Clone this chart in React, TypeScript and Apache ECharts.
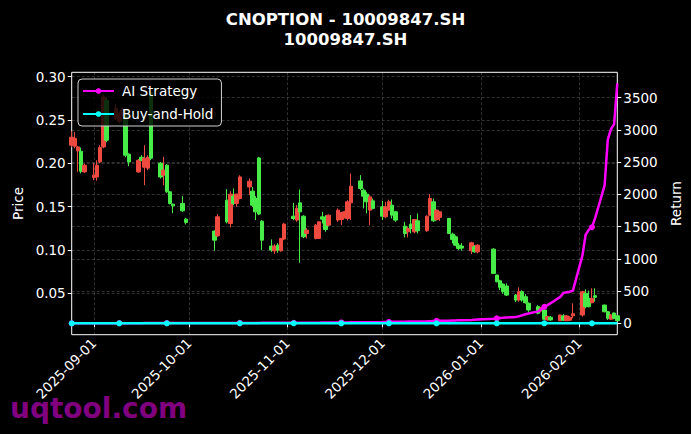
import React, { useEffect, useRef } from 'react';
import * as echarts from 'echarts';

// trading days
const dates = [
  '2025-08-25', '2025-08-26', '2025-08-27', '2025-08-28', '2025-08-29',
  '2025-09-01', '2025-09-02', '2025-09-03', '2025-09-04', '2025-09-05',
  '2025-09-08', '2025-09-09', '2025-09-10', '2025-09-11', '2025-09-12',
  '2025-09-15', '2025-09-16', '2025-09-17', '2025-09-18', '2025-09-19',
  '2025-09-22', '2025-09-23', '2025-09-24', '2025-09-25', '2025-09-26',
  '2025-09-29', '2025-09-30',
  '2025-10-09', '2025-10-10',
  '2025-10-13', '2025-10-14', '2025-10-15', '2025-10-16', '2025-10-17',
  '2025-10-20', '2025-10-21', '2025-10-22', '2025-10-23', '2025-10-24',
  '2025-10-27', '2025-10-28', '2025-10-29', '2025-10-30', '2025-10-31',
  '2025-11-03', '2025-11-04', '2025-11-05', '2025-11-06', '2025-11-07',
  '2025-11-10', '2025-11-11', '2025-11-12', '2025-11-13', '2025-11-14',
  '2025-11-17', '2025-11-18', '2025-11-19', '2025-11-20', '2025-11-21',
  '2025-11-24', '2025-11-25', '2025-11-26', '2025-11-27', '2025-11-28',
  '2025-12-01', '2025-12-02', '2025-12-03', '2025-12-04', '2025-12-05',
  '2025-12-08', '2025-12-09', '2025-12-10', '2025-12-11', '2025-12-12',
  '2025-12-15', '2025-12-16', '2025-12-17', '2025-12-18', '2025-12-19',
  '2025-12-22', '2025-12-23', '2025-12-24', '2025-12-25', '2025-12-26',
  '2025-12-29', '2025-12-30', '2025-12-31',
  '2026-01-05', '2026-01-06', '2026-01-07', '2026-01-08', '2026-01-09',
  '2026-01-12', '2026-01-13', '2026-01-14', '2026-01-15', '2026-01-16',
  '2026-01-19', '2026-01-20', '2026-01-21', '2026-01-22', '2026-01-23',
  '2026-01-26', '2026-01-27', '2026-01-28', '2026-01-29', '2026-01-30',
  '2026-02-02', '2026-02-03', '2026-02-04', '2026-02-05', '2026-02-06',
  '2026-02-09', '2026-02-10', '2026-02-11', '2026-02-12', '2026-02-13',
];

const opens = [
  0.2209, 0.2197, 0.2143, 0.2139, 0.1901,
  0.1837, 0.1843, 0.2016, 0.2189, 0.2727,
  0.2520, 0.2485, 0.2570, 0.2550, 0.2105,
  0.1901, 0.2070, 0.1955, 0.1944, 0.2819,
  0.2001, 0.1863, 0.1978, 0.1671, 0.1529,
  0.1537, 0.1356,
  0.1218, 0.1164,
  0.1575, 0.1306, 0.1621, 0.1537, 0.1594,
  0.1728, 0.1679, 0.1594, 0.2062, 0.1333,
  0.1045, 0.0991, 0.1056, 0.0991, 0.1126,
  0.1390, 0.1345, 0.1544, 0.1390, 0.1191,
  0.1134, 0.1134, 0.1383, 0.1364, 0.1287,
  0.1345, 0.1352, 0.1376, 0.1364, 0.1544,
  0.1797, 0.1690, 0.1644, 0.1460, 0.1567,
  0.1498, 0.1383, 0.1460, 0.1517, 0.1440,
  0.1275, 0.1210, 0.1299, 0.1210, 0.1337,
  0.1222, 0.1402, 0.1556, 0.1352, 0.1376,
  0.1364, 0.1183, 0.1152, 0.1056, 0.1045,
  0.0991, 0.1037, 0.0979,
  0.1010, 0.0711, 0.0645, 0.0607, 0.0584,
  0.0480, 0.0423, 0.0519, 0.0461, 0.0385,
  0.0346, 0.0296, 0.0308, 0.0193, 0.0224,
  0.0185, 0.0240, 0.0185, 0.0190, 0.0241,
  0.0250, 0.0500, 0.0442, 0.0392, 0.0473,
  0.0365, 0.0288, 0.0201, 0.0273, 0.0241,
];

const closes = [
  0.2301, 0.2289, 0.2189, 0.1909, 0.1978,
  0.1863, 0.1978, 0.2182, 0.2765, 0.2266,
  0.2635, 0.2577, 0.2620, 0.2094, 0.2016,
  0.2036, 0.2036, 0.2059, 0.2070, 0.2059,
  0.1843, 0.1921, 0.1671, 0.1537, 0.1510,
  0.1452, 0.1318,
  0.1114, 0.1383,
  0.1325, 0.1644, 0.1537, 0.1644, 0.1843,
  0.1794, 0.1517, 0.1440, 0.1414, 0.1114,
  0.0999, 0.1045, 0.0999, 0.1134, 0.1299,
  0.1364, 0.1480, 0.1440, 0.1152, 0.1229,
  0.1287, 0.1325, 0.1356, 0.1237, 0.1402,
  0.1460, 0.1429, 0.1440, 0.1556, 0.1736,
  0.1710, 0.1621, 0.1556, 0.1613, 0.1480,
  0.1390, 0.1498, 0.1556, 0.1402, 0.1345,
  0.1191, 0.1249, 0.1249, 0.1352, 0.1222,
  0.1390, 0.1594, 0.1337, 0.1460, 0.1440,
  0.1191, 0.1122, 0.1056, 0.1018, 0.1022,
  0.1083, 0.0979, 0.1056,
  0.0730, 0.0634, 0.0569, 0.0519, 0.0480,
  0.0423, 0.0519, 0.0423, 0.0392, 0.0308,
  0.0270, 0.0330, 0.0201, 0.0231, 0.0193,
  0.0250, 0.0190, 0.0240, 0.0225, 0.0265,
  0.0519, 0.0346, 0.0346, 0.0442, 0.0454,
  0.0288, 0.0212, 0.0250, 0.0212, 0.0185,
];

const lows = [
  0.2186, 0.2174, 0.1901, 0.1883, 0.1890,
  0.1805, 0.1799, 0.2001, 0.2174, 0.2243,
  0.2497, 0.2460, 0.2540, 0.2070, 0.1967,
  0.1890, 0.2025, 0.1748, 0.1921, 0.2036,
  0.1825, 0.1748, 0.1660, 0.1525, 0.1425,
  0.1440, 0.1295,
  0.0991, 0.1152,
  0.1306, 0.1260, 0.1517, 0.1498, 0.1583,
  0.1633, 0.1498, 0.1345, 0.1402, 0.0999,
  0.0979, 0.0956, 0.0968, 0.0980, 0.1114,
  0.1345, 0.1325, 0.0853, 0.1137, 0.1134,
  0.1122, 0.1130, 0.1306, 0.1210, 0.1275,
  0.1325, 0.1287, 0.1364, 0.1340, 0.1345,
  0.1690, 0.1480, 0.1422, 0.1287, 0.1467,
  0.1345, 0.1367, 0.1455, 0.1364, 0.1325,
  0.1145, 0.1145, 0.1191, 0.1191, 0.1191,
  0.1210, 0.1390, 0.1325, 0.1340, 0.1337,
  0.1185, 0.1076, 0.1045, 0.0999, 0.0991,
  0.0953, 0.0968, 0.0961,
  0.0725, 0.0627, 0.0538, 0.0496, 0.0469,
  0.0400, 0.0404, 0.0404, 0.0380, 0.0285,
  0.0258, 0.0280, 0.0190, 0.0185, 0.0185,
  0.0181, 0.0180, 0.0180, 0.0180, 0.0212,
  0.0231, 0.0327, 0.0338, 0.0385, 0.0404,
  0.0280, 0.0193, 0.0193, 0.0201, 0.0180,
];

const highs = [
  0.2370, 0.2362, 0.2200, 0.2182, 0.1995,
  0.2001, 0.2036, 0.2209, 0.2796, 0.2760,
  0.2680, 0.2600, 0.2650, 0.2620, 0.2116,
  0.2050, 0.2094, 0.2209, 0.2094, 0.2865,
  0.2016, 0.2074, 0.1990, 0.1680, 0.1535,
  0.1621, 0.1371,
  0.1225, 0.1414,
  0.1702, 0.1679, 0.1710, 0.1650, 0.1863,
  0.1825, 0.1728, 0.1621, 0.2074, 0.1345,
  0.1122, 0.1068, 0.1080, 0.1140, 0.1314,
  0.1544, 0.1517, 0.1698, 0.1402, 0.1252,
  0.1300, 0.1330, 0.1440, 0.1402, 0.1410,
  0.1480, 0.1440, 0.1452, 0.1575, 0.1883,
  0.1863, 0.1710, 0.1671, 0.1633, 0.1594,
  0.1567, 0.1556, 0.1580, 0.1583, 0.1452,
  0.1325, 0.1268, 0.1402, 0.1352, 0.1422,
  0.1400, 0.1644, 0.1594, 0.1467, 0.1445,
  0.1370, 0.1200, 0.1168, 0.1080, 0.1080,
  0.1095, 0.1056, 0.1068,
  0.1020, 0.0715, 0.0657, 0.0615, 0.0615,
  0.0492, 0.0569, 0.0535, 0.0492, 0.0396,
  0.0365, 0.0340, 0.0346, 0.0243, 0.0239,
  0.0254, 0.0260, 0.0250, 0.0235, 0.0385,
  0.0530, 0.0546, 0.0530, 0.0558, 0.0558,
  0.0370, 0.0296, 0.0262, 0.0280, 0.0250,
];

// returns on the right axis
const aiReturn = [
  0, 0, 0, 1, 1,
  1, 1, 1, 2, 2,
  2, 2, 2, 2, 2,
  2, 2, 3, 3, 3,
  3, 3, 3, 4, 4,
  4, 4,
  4, 5,
  5, 5, 5, 5, 6,
  6, 6, 6, 6, 7,
  7, 7, 7, 8, 8,
  8, 9, 9, 9, 10,
  10, 10, 11, 11, 12,
  12, 13, 13, 14, 15,
  15, 16, 17, 17, 18,
  19, 20, 21, 22, 23,
  25, 26, 27, 28, 29,
  31, 33, 35, 37, 39,
  41, 43, 45, 47, 49,
  52, 55, 58,
  70, 76, 81, 86, 90,
  96, 108, 125, 140, 152,
  185, 218, 255, 282, 312,
  410, 468, 482, 490, 506,
  1050, 1370, 1450, 1490, 1630,
  2140, 2850, 3010, 3090, 3720,
];

const bhReturn = [
  0, 0, 0, 0, 0, 0, 0, 0, 0, 0, 0, 0, 0, 0, 0, 0, 0, 0, 0, 0,
  0, 0, 0, 0, 0, 0, 0, 0, 0, 0, 0, 0, 0, 0, 0, 0, 0, 0, 0, 0,
  0, 0, 0, 0, 0, 0, 0, 0, 0, 0, 0, 0, 0, 0, 0, 0, 0, 0, 0, 0,
  0, 0, 0, 0, 0, 0, 0, 0, 0, 0, 0, 0, 0, 0, 0, 0, 0, 0, 0, 0,
  0, 0, 0, 0, 0, 0, 0, 0, 0, 0, 0, 0, 0, 0, 0, 0, 0, 0, 0, 0,
  0, 0, 0, 0, 0, 0, 0, 0, 0, 0, 0, 0, 0, 0, 0, 0, 0,
];

const monthTicks = ['2025-09-01', '2025-10-01', '2025-11-01', '2025-12-01', '2026-01-01', '2026-02-01'];
const priceTicks = [0.05, 0.1, 0.15, 0.2, 0.25, 0.3];
const returnTicks = [0, 500, 1000, 1500, 2000, 2500, 3000, 3500];

const UP = '#ee4a40';
const DOWN = '#48ec48';
const FONT = 'DejaVu Sans';

const ts = (s: string) => {
  const [y, m, d] = s.split('-').map(Number);
  return new Date(y, m - 1, d).getTime();
};
const pad = (n: number) => String(n).padStart(2, '0');
const fmtDate = (v: number) => {
  const d = new Date(v);
  return `${d.getFullYear()}-${pad(d.getMonth() + 1)}-${pad(d.getDate())}`;
};

const gridLine = { show: true, lineStyle: { color: 'rgba(255,255,255,0.28)', type: [3, 2], width: 0.7 } };

export default function App() {
  const chartRef = useRef<HTMLDivElement>(null);

  useEffect(() => {
    if (!chartRef.current) return;
    const chart = echarts.init(chartRef.current, null, { renderer: 'svg' });

    const candleData = dates.map((d, i) => [ts(d), opens[i], closes[i], lows[i], highs[i]]);
    const aiData = dates.map((d, i) => [ts(d), aiReturn[i]]);
    const bhData = dates.map((d, i) => [ts(d), bhReturn[i]]);
    const markerSize = (_v: any, p: any) => (p.dataIndex % 11 === 0 ? 6 : 0);
    const xTicks = monthTicks.map(ts);

    const option: any = {
      animation: false,
      backgroundColor: '#000',
      textStyle: { fontFamily: FONT },
      title: [
        { text: 'CNOPTION - 10009847.SH', left: 'center', top: 6, textStyle: { color: '#fff', fontSize: 16.5, fontWeight: 'bold', fontFamily: FONT } },
        { text: '10009847.SH', left: 'center', top: 26, textStyle: { color: '#fff', fontSize: 16.5, fontWeight: 'bold', fontFamily: FONT } },
      ],
      legend: {
        data: ['AI Strategy', 'Buy-and-Hold'],
        orient: 'vertical',
        left: 78,
        top: 79,
        padding: [5, 8, 5, 4],
        itemGap: 9,
        itemWidth: 31,
        itemHeight: 7,
        backgroundColor: 'rgba(0,0,0,0.8)',
        borderColor: '#d0d0d0',
        borderWidth: 1,
        borderRadius: 4,
        textStyle: { color: '#fff', fontSize: 13.5, fontFamily: FONT, padding: [0, 0, 0, 3] },
      },
      grid: { left: 71.7, top: 72.3, width: 545.6, height: 262.4, show: true, borderColor: '#fff', borderWidth: 1 },
      xAxis: {
        type: 'value',
        min: ts('2025-08-25'),
        max: ts('2026-02-13'),
        axisLine: { show: false },
        axisTick: { show: true, length: 4, lineStyle: { color: '#fff' }, customValues: xTicks },
        axisLabel: { customValues: xTicks, rotate: 45, color: '#fff', fontSize: 13.5, margin: 6, formatter: (v: number) => fmtDate(v) },
        splitLine: gridLine,
      },
      yAxis: [
        {
          type: 'value',
          position: 'left',
          min: 0.0023,
          max: 0.305,
          name: 'Price',
          nameLocation: 'middle',
          nameGap: 47,
          nameRotate: 90,
          nameTextStyle: { color: '#fff', fontSize: 13.5 },
          axisLine: { show: false },
          axisTick: { show: true, length: 4, lineStyle: { color: '#fff' }, customValues: priceTicks },
          axisLabel: { customValues: priceTicks, color: '#fff', fontSize: 13.5, margin: 6, formatter: (v: number) => v.toFixed(2) },
          splitLine: gridLine,
        },
        {
          type: 'value',
          position: 'right',
          min: -177,
          max: 3893,
          name: 'Return',
          nameLocation: 'middle',
          nameGap: 48,
          nameRotate: 90,
          nameTextStyle: { color: '#fff', fontSize: 13.5 },
          axisLine: { show: false },
          axisTick: { show: true, length: 4, lineStyle: { color: '#fff' }, customValues: returnTicks },
          axisLabel: { customValues: returnTicks, color: '#fff', fontSize: 13.5, margin: 6, formatter: (v: number) => String(v) },
          splitLine: gridLine,
        },
      ],
      series: [
        {
          type: 'candlestick',
          name: 'Price',
          xAxisIndex: 0,
          yAxisIndex: 0,
          barWidth: 4,
          encode: { x: 0, y: [1, 2, 3, 4] },
          data: candleData,
          itemStyle: { color: UP, color0: DOWN, borderColor: UP, borderColor0: DOWN, borderWidth: 1 },
          z: 2,
        },
        {
          type: 'line',
          name: 'AI Strategy',
          yAxisIndex: 1,
          data: aiData,
          color: '#ff00ff',
          lineStyle: { width: 2.5, color: '#ff00ff' },
          itemStyle: { color: '#ff00ff' },
          symbol: 'circle',
          symbolSize: markerSize,
          showSymbol: true,
          showAllSymbol: true,
          z: 3,
        },
        {
          type: 'line',
          name: 'Buy-and-Hold',
          yAxisIndex: 1,
          data: bhData,
          color: '#00ffff',
          lineStyle: { width: 2.5, color: '#00ffff' },
          itemStyle: { color: '#00ffff' },
          symbol: 'circle',
          symbolSize: markerSize,
          showSymbol: true,
          showAllSymbol: true,
          z: 4,
        },
      ],
      graphic: [
        {
          type: 'text',
          left: 10,
          top: 394,
          style: { text: 'uqtool.com', fill: '#800080', font: `bold 28px "${FONT}"` },
        },
      ],
    };

    chart.setOption(option);
    return () => chart.dispose();
  }, []);

  return (
    <div
      ref={chartRef}
      style={{ position: 'absolute', left: 0, top: 0, width: 691, height: 434, background: '#000' }}
    />
  );
}
